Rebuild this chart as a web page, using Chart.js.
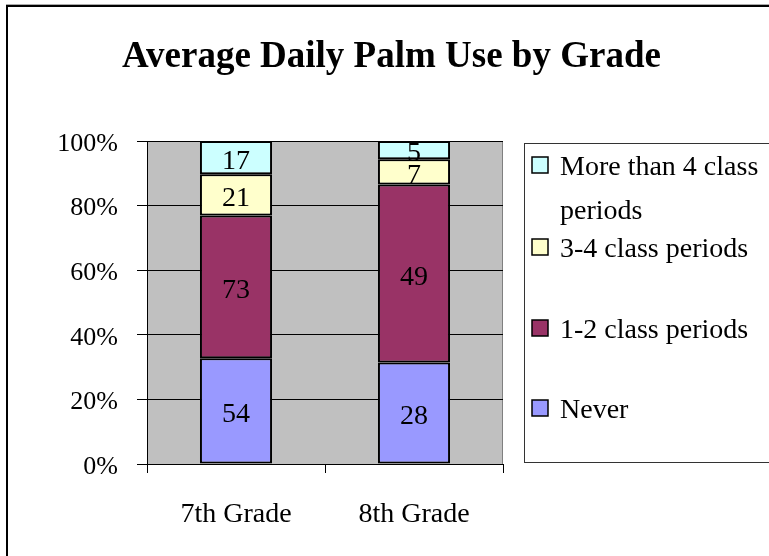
<!DOCTYPE html>
<html>
<head>
<meta charset="utf-8">
<script src="https://cdn.jsdelivr.net/npm/chart.js@4/dist/chart.umd.min.js"></script>
<style>
  html, body { margin: 0; padding: 0; background: #fff; overflow: hidden; }
  #wrap { position: relative; width: 769px; height: 556px; }
</style>
</head>
<body>
<div id="wrap"><canvas id="chart" width="769" height="556"></canvas></div>
<script>
// data (counts shown inside the bars)
const grades = ['7th Grade', '8th Grade'];
const neverCounts = [54, 28];
const oneTwoCounts = [73, 49];
const threeFourCounts = [21, 7];
const moreThanFourCounts = [17, 5];
const seriesNames = ['Never', '1-2 class periods', '3-4 class periods', 'More than 4 class periods'];
const seriesColors = ['#9999FF', '#993366', '#FFFFCC', '#CCFFFF'];
const yTickValues = [0, 20, 40, 60, 80, 100];

const FONT = '"Liberation Serif", "Times New Roman", serif';
const allCounts = [neverCounts, oneTwoCounts, threeFourCounts, moreThanFourCounts];
const totals = grades.map((g, i) => allCounts.reduce((s, arr) => s + arr[i], 0));
const toPct = arr => arr.map((v, i) => v / totals[i] * 100);

const datasets = allCounts.map((arr, k) => ({
    label: seriesNames[k],
    data: toPct(arr),
    counts: arr,
    backgroundColor: seriesColors[k],
    borderColor: '#000',
    borderWidth: 2,
    borderSkipped: false,
    barPercentage: 0.405,
    categoryPercentage: 1
}));

// gray plot area + outer frame
const frame = {
    id: 'frame',
    beforeDraw(chart){
        const {ctx, chartArea: a} = chart;
        ctx.save();
        ctx.fillStyle = '#C0C0C0';
        ctx.fillRect(a.left, a.top, a.right - a.left, a.bottom - a.top);
        ctx.strokeStyle = '#808080';
        ctx.lineWidth = 1;
        ctx.beginPath();
        ctx.moveTo(a.left, a.top + 0.5);
        ctx.lineTo(a.right - 0.5, a.top + 0.5);
        ctx.lineTo(a.right - 0.5, a.bottom);
        ctx.stroke();
        ctx.restore();
    },
    afterDraw(chart){
        const ctx = chart.ctx;
        ctx.save();
        ctx.fillStyle = '#aaa';
        ctx.fillRect(6, 4, 769, 1);
        ctx.fillStyle = '#000';
        ctx.fillRect(6, 5, 769, 2);
        ctx.fillRect(6, 5, 2, 556);
        ctx.restore();
    }
};

// counts written in the middle of each segment
const segLabels = {
    id: 'segLabels',
    afterDatasetsDraw(chart){
        const ctx = chart.ctx;
        ctx.save();
        ctx.font = '28px ' + FONT;
        ctx.fillStyle = '#000';
        ctx.textAlign = 'center';
        ctx.textBaseline = 'middle';
        chart.data.datasets.forEach((ds, di) => {
            chart.getDatasetMeta(di).data.forEach((bar, i) => {
                ctx.fillText(String(ds.counts[i]), bar.x, (bar.y + bar.base) / 2 + 4);
            });
        });
        ctx.restore();
    }
};

// boxed legend on the right, top item first
const boxLegend = {
    id: 'boxLegend',
    afterDraw(chart){
        const ctx = chart.ctx;
        const a = chart.chartArea;
        const boxLeft = a.right + 21, boxTop = 143, boxBottom = 462;
        ctx.save();
        ctx.strokeStyle = '#333';
        ctx.lineWidth = 1;
        ctx.strokeRect(boxLeft + 0.5, boxTop + 0.5, 400, boxBottom - boxTop);
        ctx.font = '28px ' + FONT;
        ctx.textBaseline = 'middle';
        ctx.textAlign = 'left';
        const sq = 16, sqX = boxLeft + 8, txtX = boxLeft + 36;
        const maxW = 769 - txtX - 4;
        const centers = [165, 247, 328, 408];
        const items = chart.data.datasets.slice().reverse();
        items.forEach((ds, k) => {
            const cy = centers[k];
            ctx.fillStyle = ds.backgroundColor;
            ctx.fillRect(sqX, cy - sq / 2, sq, sq);
            ctx.strokeStyle = '#000';
            ctx.lineWidth = 1.5;
            ctx.strokeRect(sqX, cy - sq / 2, sq, sq);
            // wrap words to the box
            const words = ds.label.split(' ');
            const lines = [];
            let line = '';
            words.forEach(w => {
                const t = line ? line + ' ' + w : w;
                if (ctx.measureText(t).width > maxW && line) { lines.push(line); line = w; }
                else line = t;
            });
            lines.push(line);
            ctx.fillStyle = '#000';
            lines.forEach((l, j) => ctx.fillText(l, txtX, cy + 3 + j * 44));
        });
        ctx.restore();
    }
};

new Chart(document.getElementById('chart').getContext('2d'), {
    type: 'bar',
    data: { labels: grades, datasets },
    options: {
        responsive: false,
        animation: false,
        layout: { padding: { left: 14, right: 0, top: 0, bottom: 0 } },
        plugins: {
            legend: { display: false },
            tooltip: { enabled: false },
            title: {
                display: true,
                text: 'Average Daily Palm Use by Grade',
                color: '#000',
                font: { family: FONT, size: 37, weight: 'bold' },
                padding: { top: 35, bottom: 61.6 }
            }
        },
        scales: {
            x: {
                stacked: true,
                offset: true,
                grid: { display: true, drawOnChartArea: false, offset: true, color: '#000', tickLength: 9 },
                border: { display: true, color: '#000', width: 1 },
                ticks: { color: '#000', font: { family: FONT, size: 28 }, padding: 25, maxRotation: 0 },
                afterFit(s){ s.height = 92; }
            },
            y: {
                stacked: true,
                min: 0,
                max: 100,
                afterBuildTicks(s){ s.ticks = yTickValues.map(v => ({ value: v })); },
                grid: { color: '#000', lineWidth: 1, tickLength: 10 },
                border: { display: true, color: '#000', width: 1 },
                ticks: { color: '#000', font: { family: FONT, size: 26 }, padding: 19, labelOffset: 3, callback: v => v + '%' },
                afterFit(s){ s.width = 133; }
            },
            yRight: {
                type: 'linear',
                position: 'right',
                display: true,
                grid: { display: false },
                border: { display: false },
                ticks: { display: false },
                afterFit(s){ s.width = 266; }
            }
        }
    },
    plugins: [frame, segLabels, boxLegend]
});
</script>
</body>
</html>
